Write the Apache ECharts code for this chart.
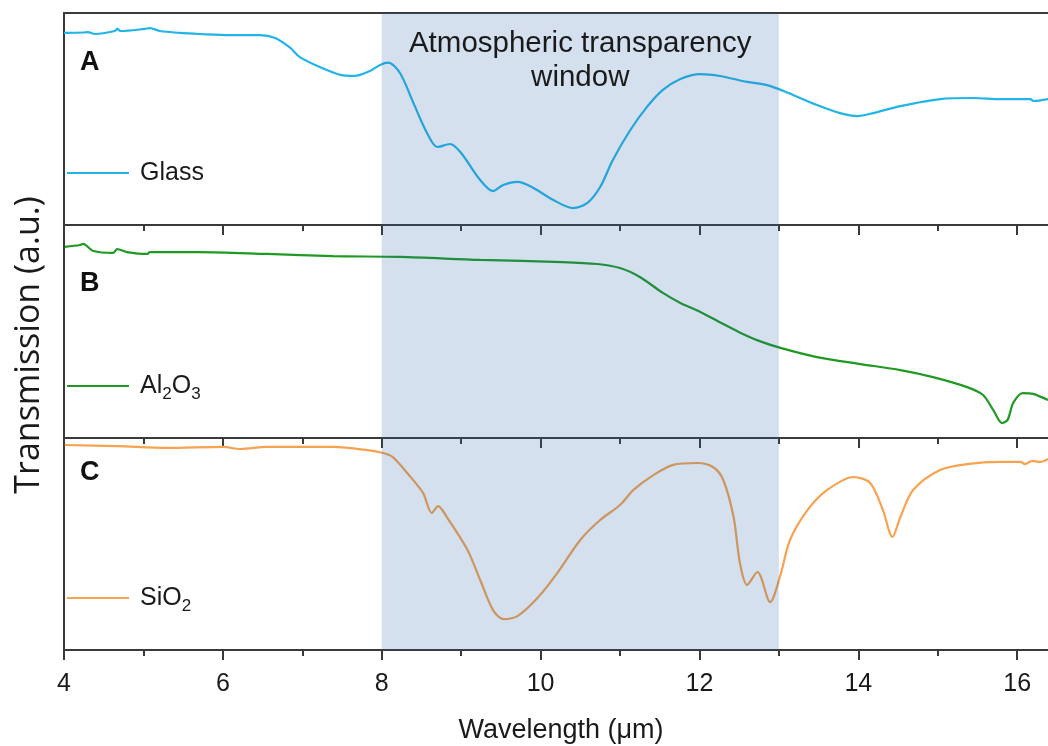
<!DOCTYPE html>
<html>
<head>
<meta charset="utf-8">
<title>Transmission spectra</title>
<script src="https://cdn.jsdelivr.net/npm/echarts@6/dist/echarts.min.js"></script>
<style>
  html, body { margin: 0; padding: 0; background: #ffffff; overflow: hidden; }
  #chart { width: 1048px; height: 746px; }
</style>
</head>
<body>
<div id="chart"></div>
<script>
// Wavelength (µm) and relative transmission for each sample (arbitrary units, 0..1 per panel)
const glassX = [4.00, 4.24, 4.30, 4.39, 4.64, 4.67, 4.71, 5.02, 5.08, 5.21, 5.46, 5.71, 6.09, 6.47, 6.66, 6.85, 6.97, 7.22, 7.48, 7.66, 7.85, 7.98, 8.08, 8.23, 8.40, 8.57, 8.70, 8.86, 8.99, 9.24, 9.40, 9.53, 9.71, 9.91, 10.16, 10.41, 10.59, 10.75, 10.91, 11.13, 11.34, 11.54, 11.76, 12.01, 12.26, 12.60, 12.85, 13.06, 13.48, 13.77, 13.99, 14.19, 14.53, 15.03, 15.45, 15.79, 16.17, 16.20, 16.39];
const glassY = [0.906, 0.908, 0.910, 0.901, 0.915, 0.925, 0.915, 0.925, 0.929, 0.915, 0.906, 0.901, 0.896, 0.896, 0.882, 0.835, 0.792, 0.745, 0.708, 0.703, 0.726, 0.755, 0.766, 0.717, 0.575, 0.434, 0.368, 0.382, 0.344, 0.212, 0.160, 0.189, 0.203, 0.175, 0.118, 0.080, 0.104, 0.179, 0.307, 0.448, 0.557, 0.637, 0.689, 0.712, 0.703, 0.675, 0.660, 0.632, 0.566, 0.528, 0.514, 0.528, 0.561, 0.594, 0.599, 0.594, 0.594, 0.585, 0.594];

const al2o3X = [4.01, 4.20, 4.24, 4.37, 4.62, 4.67, 4.79, 5.05, 5.08, 5.71, 6.56, 7.39, 8.23, 9.24, 10.28, 10.71, 11.00, 11.25, 11.54, 11.76, 12.01, 12.25, 12.50, 12.75, 13.02, 13.48, 14.03, 14.53, 14.94, 15.37, 15.57, 15.70, 15.81, 15.88, 15.95, 16.07, 16.20, 16.39];
const al2o3Y = [0.897, 0.906, 0.911, 0.878, 0.869, 0.887, 0.873, 0.864, 0.873, 0.873, 0.864, 0.854, 0.850, 0.836, 0.826, 0.817, 0.798, 0.756, 0.681, 0.634, 0.592, 0.545, 0.497, 0.456, 0.423, 0.380, 0.347, 0.319, 0.286, 0.239, 0.202, 0.131, 0.070, 0.085, 0.164, 0.211, 0.207, 0.178];

const sio2X = [4.01, 4.67, 5.30, 6.00, 6.22, 6.56, 7.39, 7.82, 8.02, 8.14, 8.32, 8.52, 8.63, 8.71, 8.82, 9.08, 9.24, 9.40, 9.53, 9.71, 9.96, 10.21, 10.50, 10.75, 11.00, 11.17, 11.42, 11.67, 11.97, 12.17, 12.30, 12.43, 12.51, 12.60, 12.73, 12.89, 13.02, 13.14, 13.36, 13.61, 13.94, 14.15, 14.31, 14.43, 14.53, 14.69, 15.03, 15.37, 15.79, 16.04, 16.10, 16.19, 16.29, 16.39];
const sio2Y = [0.967, 0.962, 0.953, 0.958, 0.948, 0.958, 0.958, 0.943, 0.929, 0.910, 0.835, 0.741, 0.646, 0.679, 0.627, 0.472, 0.330, 0.189, 0.146, 0.160, 0.245, 0.363, 0.519, 0.613, 0.684, 0.755, 0.825, 0.873, 0.882, 0.863, 0.802, 0.627, 0.410, 0.307, 0.368, 0.226, 0.354, 0.519, 0.660, 0.755, 0.816, 0.788, 0.660, 0.533, 0.627, 0.755, 0.849, 0.877, 0.887, 0.887, 0.877, 0.892, 0.887, 0.901];

const seriesNames = ['Glass', 'Al2O3', 'SiO2'];
const panelLetters = ['A', 'B', 'C'];
const windowRange = [8, 13];
const windowLabel = 'Atmospheric transparency\nwindow';
const xTitle = 'Wavelength (\u03bcm)';
const yTitle = 'Transmission (a.u.)';

const colors = ['#22b4e6', '#1e9a22', '#f7a24e'];
const axisColor = '#3a3a3a';
const sansFont = 'Liberation Sans, Arial, sans-serif';

const zip = (xs, ys) => xs.map((x, i) => [x, ys[i]]);
const seriesData = [zip(glassX, glassY), zip(al2o3X, al2o3Y), zip(sio2X, sio2Y)];

// Three stacked panels sharing the wavelength scale; the plot runs on past the right edge
const gridTops = [13, 225, 438];
const gridHeights = [212, 213, 212];
const grids = gridTops.map((t, i) => ({
  left: 64, width: 1112, top: t, height: gridHeights[i],
  outerBoundsMode: 'none', containLabel: false
}));

const baseX = (i, showLabels) => ({
  type: 'value', gridIndex: i, min: 4, max: 18, interval: 2,
  axisLine: { show: true, onZero: false, lineStyle: { color: axisColor, width: 2 } },
  axisTick: { show: true, inside: false, length: 10, lineStyle: { color: axisColor, width: 2 } },
  minorTick: { show: true, splitNumber: 2, length: 6, lineStyle: { color: axisColor, width: 2 } },
  splitLine: { show: false },
  axisLabel: { show: showLabels, margin: 22, fontSize: 25, color: '#1a1a1a', fontFamily: sansFont,
    hideOverlap: false }
});

const xAxes = [baseX(0, false), baseX(1, false), baseX(2, true),
  // top border of the upper panel
  { type: 'value', gridIndex: 0, position: 'top', min: 4, max: 18,
    axisLine: { show: true, onZero: false, lineStyle: { color: axisColor, width: 2 } },
    axisTick: { show: false }, axisLabel: { show: false }, splitLine: { show: false } }];

const yAxes = [0, 1, 2].map(i => ({
  type: 'value', gridIndex: i, min: 0, max: 1,
  axisLine: { show: true, onZero: false, lineStyle: { color: axisColor, width: 2 } },
  axisTick: { show: false }, axisLabel: { show: false }, splitLine: { show: false }
}));

const series = seriesNames.map((name, i) => ({
  name, type: 'line', xAxisIndex: i, yAxisIndex: i,
  data: seriesData[i], showSymbol: false, smooth: 0.3,
  lineStyle: { color: colors[i], width: 2.2 }, itemStyle: { color: colors[i] },
  z: 2,
  markArea: {
    silent: true, z: 5,
    itemStyle: { color: 'rgba(40,100,170,0.2)' },
    label: i === 0 ? {
      show: true, position: 'insideTop', distance: 14,
      formatter: windowLabel, fontSize: 29.5, lineHeight: 34,
      color: '#1a1a1a', fontFamily: sansFont
    } : { show: false },
    data: [[{ xAxis: windowRange[0] }, { xAxis: windowRange[1] }]]
  }
}));

const legendTexts = {
  'Glass': 'Glass',
  'Al2O3': 'Al{sub|2}O{sub|3}',
  'SiO2': 'SiO{sub|2}'
};
const legendCenters = [173, 386, 598];
const legends = seriesNames.map((name, i) => ({
  data: [name], left: 67, top: legendCenters[i] - 17, padding: 0,
  icon: 'rect', itemWidth: 62, itemHeight: 2, itemGap: 0,
  selectedMode: false,
  formatter: n => legendTexts[n],
  textStyle: {
    fontSize: 25, lineHeight: 34, color: '#1a1a1a', fontFamily: sansFont, padding: [0, 0, 0, 6],
    rich: { sub: { fontSize: 17, lineHeight: 16, verticalAlign: 'bottom', color: '#1a1a1a', fontFamily: sansFont } }
  }
}));

const letterTops = [49, 270, 459];
const graphics = panelLetters.map((t, i) => ({
  type: 'text', left: 80, top: letterTops[i],
  style: { text: t, font: 'bold 27px ' + sansFont, fill: '#111111' }
}));
graphics.push({
  type: 'text', x: 561, y: 731,
  style: { text: xTitle, font: '27px ' + sansFont, fill: '#1a1a1a', align: 'center', verticalAlign: 'middle' }
});
graphics.push({
  type: 'text', x: 29, y: 345, rotation: Math.PI / 2,
  style: { text: yTitle, font: '34px "Open Sans", Lato, sans-serif', fill: '#1a1a1a', align: 'center', verticalAlign: 'middle' }
});

const chart = echarts.init(document.getElementById('chart'), null, { renderer: 'canvas' });
chart.setOption({
  backgroundColor: '#ffffff',
  animation: false,
  grid: grids,
  xAxis: xAxes,
  yAxis: yAxes,
  legend: legends,
  series,
  graphic: graphics
});
</script>
</body>
</html>
